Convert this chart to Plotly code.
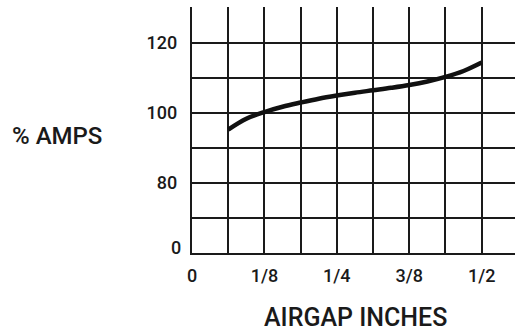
import plotly.graph_objects as go

airgap_16ths = [1, 1.5, 2, 2.5, 3, 3.5, 4, 4.5, 5, 5.5, 6, 6.5, 7, 7.5, 8]
pct_amps = [95.2, 98.3, 100.2, 101.7, 102.9, 104.0, 104.9, 105.7, 106.4, 107.1, 107.9, 108.9, 110.2, 111.9, 114.3]
airgap_in = [v / 16 for v in airgap_16ths]

x_tickvals = [i / 16 for i in range(9)]
x_ticktext = ["0", "", "1/8", "", "1/4", "", "3/8", "", "1/2"]
y_tickvals = [60, 70, 80, 90, 100, 110, 120, 130]
y_ticktext = ["", "", "80", "", "100", "", "120", ""]
y_break_label = "0"

FONT = "Roboto, DejaVu Sans Condensed, Liberation Sans, Arial, sans-serif"
INK = "#1a1a1a"

fig = go.Figure()
fig.add_trace(go.Scatter(
    x=airgap_in, y=pct_amps, mode="lines",
    line=dict(color="#111111", width=4.5, shape="spline"),
    hoverinfo="skip", showlegend=False,
))

L, R, T, B = 192, 0, 7, 82
fig.update_layout(
    width=515, height=335,
    margin=dict(l=L, r=R, t=T, b=B),
    paper_bgcolor="white", plot_bgcolor="white",
    font=dict(family=FONT, color=INK),
    xaxis=dict(
        range=[0, 0.5575], tickmode="array", tickvals=x_tickvals, ticktext=x_ticktext,
        showgrid=True, gridcolor=INK, gridwidth=1.6,
        showline=True, linecolor=INK, linewidth=2.2,
        zeroline=False, ticks="", tickfont=dict(size=18, family=FONT, color=INK, weight=500),
        ticklabelstandoff=5,
    ),
    yaxis=dict(
        range=[60, 130.15], tickmode="array", tickvals=y_tickvals, ticktext=y_ticktext,
        showgrid=True, gridcolor=INK, gridwidth=1.6,
        showline=True, linecolor=INK, linewidth=2.2,
        zeroline=False, ticks="", tickfont=dict(size=18, family=FONT, color=INK, weight=500),
        ticklabelstandoff=9,
    ),
)

pw = 515 - L - R
ph = 335 - T - B

def px_to_paper(x, y):
    return (x - L) / pw, ((335 - y) - B) / ph

# broken-axis "0" label, sitting slightly above the bottom line
zx, zy = px_to_paper(183, 247)
fig.add_annotation(text=y_break_label, x=zx, y=zy, xref="paper", yref="paper",
                   xanchor="right", yanchor="middle",
                   showarrow=False, font=dict(size=18, family=FONT, color=INK, weight=500))

ax, ay = px_to_paper(57, 136)
bx, by = px_to_paper(355, 317)
fig.add_annotation(text="% AMPS", x=ax, y=ay, xref="paper", yref="paper",
                   xanchor="center", yanchor="middle",
                   showarrow=False, font=dict(size=24, family=FONT, color=INK, weight=500))
fig.add_annotation(text="AIRGAP INCHES", x=bx, y=by, xref="paper", yref="paper",
                   xanchor="center", yanchor="middle",
                   showarrow=False, font=dict(size=25, family=FONT, color=INK, weight=500))

fig.write_html("out.html", config={"displayModeBar": False},
               post_script="document.body.style.margin='0';document.body.style.padding='0';")
